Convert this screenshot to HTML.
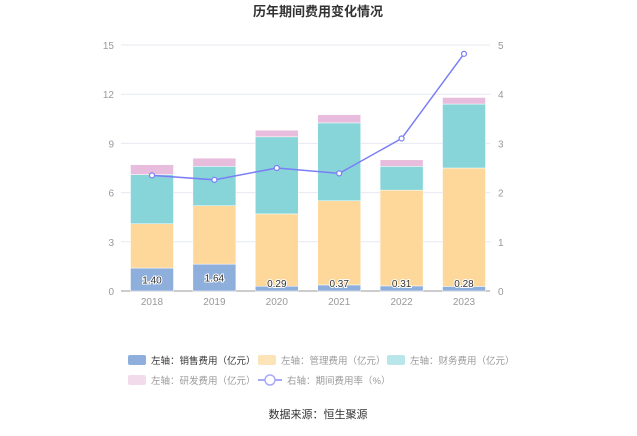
<!DOCTYPE html>
<html><head><meta charset="utf-8"><style>
body{margin:0;background:#fff;font-family:"Liberation Sans","Noto Sans CJK SC",sans-serif}
svg text{font-family:"Liberation Sans","Noto Sans CJK SC",sans-serif}
</style></head><body>
<svg id="c" width="637" height="431">
<text x="318" y="16" text-anchor="middle" font-size="13" font-weight="bold" fill="#333">历年期间费用变化情况</text>
<g id="grid"></g><g id="bars"></g><g id="line"></g>
<g font-size="9.5" fill="#999">
<rect x="128" y="355" width="18" height="10" rx="2" fill="#8eaedc"/>
<text x="151" y="364" fill="#333">左轴：销售费用（亿元）</text>
<rect x="258" y="355" width="18" height="10" rx="2" fill="#fde3b8"/>
<text x="281" y="364">左轴：管理费用（亿元）</text>
<rect x="387" y="355" width="18" height="10" rx="2" fill="#b9e6ea"/>
<text x="410" y="364">左轴：财务费用（亿元）</text>
<rect x="128" y="375" width="18" height="10" rx="2" fill="#f2dcec"/>
<text x="151" y="384">左轴：研发费用（亿元）</text>
<line x1="258" y1="380" x2="282" y2="380" stroke="#a9a9f8" stroke-width="2"/>
<circle cx="270" cy="380" r="5" fill="#fff" stroke="#a9a9f8" stroke-width="1.5"/>
<text x="287" y="384">右轴：期间费用率（%）</text>
</g>
<text x="318" y="418" text-anchor="middle" font-size="11" fill="#333">数据来源：恒生聚源</text>
</svg>
<script>
const years=["2018","2019","2020","2021","2022","2023"];
const sales=[1.40,1.64,0.29,0.37,0.31,0.28];
const admin=[2.70,3.56,4.41,5.13,5.84,7.22];
const finance=[3.00,2.40,4.70,4.75,1.45,3.90];
const rd=[0.60,0.50,0.40,0.50,0.40,0.40];
const rate=[2.35,2.26,2.50,2.39,3.10,4.82];
const leftTicks=[0,3,6,9,12,15];
const rightTicks=[0,1,2,3,4,5];
const NS="http://www.w3.org/2000/svg";
const x0=121,x1=490,yTop=45,yBot=291;
const yL=v=>yBot-(v/15)*(yBot-yTop);
const yR=v=>yBot-(v/5)*(yBot-yTop);
const step=62.4;
const xc=i=>152+step*i;
const bw=43;
function mk(t,a,p){const e=document.createElementNS(NS,t);for(const k in a)e.setAttribute(k,a[k]);p.appendChild(e);return e;}
const grid=document.getElementById('grid');
leftTicks.forEach((v,i)=>{
 const l=mk('line',{x1:x0,x2:x1,y1:yL(v),y2:yL(v),stroke:v===0?'#999':'#e6e9f2'},grid);
 
 
 const t=mk('text',{x:x0-7,y:yL(v)+4,'text-anchor':'end','font-size':'10',fill:'#999'},grid);t.textContent=v;
 
 
 const r=mk('text',{x:x1+8,y:yR(rightTicks[i])+4,'font-size':'10',fill:'#999'},grid);r.textContent=rightTicks[i];
 
 
});
years.forEach((y,i)=>{
 const t=mk('text',{x:xc(i),y:yBot+14,'text-anchor':'middle','font-size':'10',fill:'#999'},grid);t.textContent=y;
 
 
});
const bars=document.getElementById('bars');
const series=[[sales,'#8eaedc','sales'],[admin,'#fdd89a','admin'],[finance,'#87d5d8','finance'],[rd,'#e8bcdc','rd']];
years.forEach((y,i)=>{
 let base=0;
 series.forEach(([arr,col,nm])=>{
  const v=arr[i];
  const r=mk('rect',{x:xc(i)-bw/2,y:yL(base+v),width:bw,height:yL(base)-yL(base+v),fill:col,stroke:'#fff','stroke-width':'0.5'},bars);
  
  
  base+=v;
 });
 const lb=mk('text',{x:xc(i),y:Math.min(yL(sales[i]/2)+4,yBot-4),'text-anchor':'middle','font-size':'10',fill:'#333',stroke:'#fff','stroke-width':'2','paint-order':'stroke'},bars);
 lb.textContent=sales[i].toFixed(2);
 
 
});
const lg=document.getElementById('line');
const pl=mk('polyline',{points:rate.map((v,i)=>xc(i)+','+yR(v)).join(' '),fill:'none',stroke:'#7b7ef5','stroke-width':'1.5'},lg);


rate.forEach((v,i)=>{
 const c=mk('circle',{cx:xc(i),cy:yR(v),r:2.5,fill:'#fff',stroke:'#7b7ef5','stroke-width':'1.2'},lg);
 
 
});
</script>
</body></html>
